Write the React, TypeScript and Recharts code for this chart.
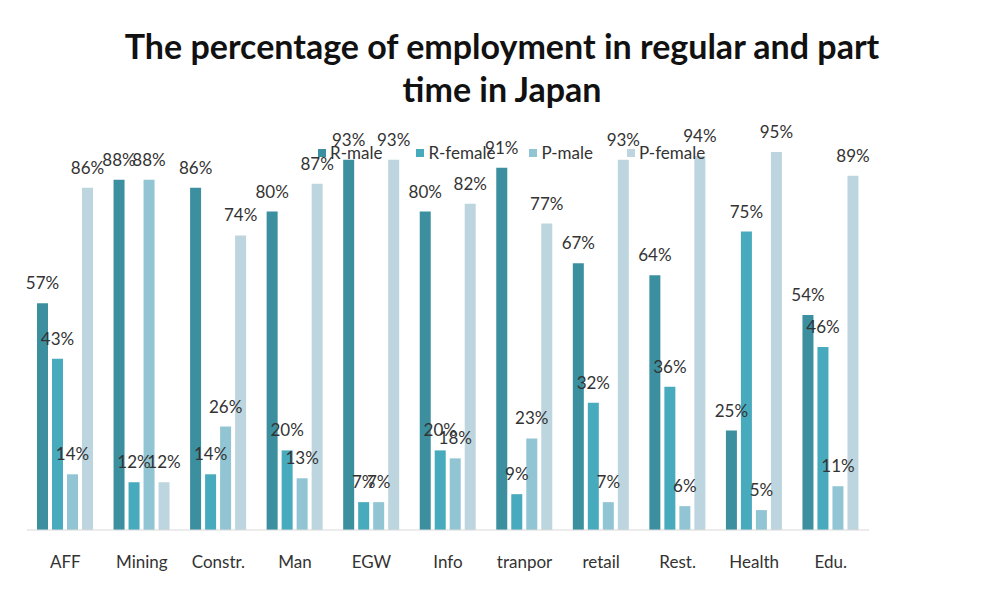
import { BarChart, Bar, XAxis, YAxis, LabelList } from 'recharts'

const categories = ['AFF', 'Mining', 'Constr.', 'Man', 'EGW', 'Info', 'tranpor', 'retail', 'Rest.', 'Health', 'Edu.']
const rMale = [57, 88, 86, 80, 93, 80, 91, 67, 64, 25, 54]
const rFemale = [43, 12, 14, 20, 7, 20, 9, 32, 36, 75, 46]
const pMale = [14, 88, 26, 13, 7, 18, 23, 7, 6, 5, 11]
const pFemale = [86, 12, 74, 87, 93, 82, 77, 93, 94, 95, 89]

const series = [
  { key: 'rMale', name: 'R-male', color: '#3b8f9f' },
  { key: 'rFemale', name: 'R-female', color: '#48aabd' },
  { key: 'pMale', name: 'P-male', color: '#92c5d4' },
  { key: 'pFemale', name: 'P-female', color: '#bdd5de' },
]

const data = categories.map((name, i) => ({
  name,
  rMale: rMale[i],
  rFemale: rFemale[i],
  pMale: pMale[i],
  pFemale: pFemale[i],
}))

const font = 'Lato, "Open Sans", sans-serif'

function LegendBox() {
  return (
    <div style={{ display: 'flex', gap: 34, fontFamily: font, fontSize: 17, color: '#333' }}>
      {series.map(s => (
        <div key={s.key} style={{ display: 'flex', alignItems: 'center' }}>
          <span style={{ width: 8, height: 8, background: s.color, marginRight: 4, display: 'inline-block' }} />
          {s.name}
        </div>
      ))}
    </div>
  )
}

export default function App() {
  return (
    <div style={{ margin: -8, position: 'relative', width: 1004, height: 592, background: '#fff' }}>
      <div style={{ position: 'absolute', left: 4, top: 0, right: 2, bottom: 3, border: '1px solid #cfcfcf', borderTop: 'none' }} />
      <div
        style={{
          position: 'absolute', top: 24, left: 0, width: 1004, textAlign: 'center',
          fontFamily: font, fontWeight: 700, fontSize: 34, lineHeight: '43px', color: '#111',
        }}
      >
        The percentage of employment in regular and part
        <br />
        time in Japan
      </div>
      <div style={{ position: 'absolute', top: 0, left: 0 }}>
        <BarChart
          width={1004}
          height={592}
          data={data}
          margin={{ top: 132, right: 135, bottom: 22, left: 27 }}
          barSize={11}
          barGap={4}
        >
          <XAxis
            dataKey="name"
            axisLine={{ stroke: '#d9d9d9' }}
            tickLine={false}
            height={40}
            tick={{ fill: '#333', fontSize: 17, fontFamily: font }}
            tickMargin={20}
            interval={0}
          />
          <YAxis hide domain={[0, 100]} />
          {series.map(s => (
            <Bar key={s.key} dataKey={s.key} name={s.name} fill={s.color} isAnimationActive={false}>
              <LabelList
                dataKey={s.key}
                position="top"
                offset={14}
                formatter={(v: number) => `${v}%`}
                style={{ fill: '#333', fontSize: 17, fontFamily: font }}
              />
            </Bar>
          ))}
        </BarChart>
      </div>
      <div style={{ position: 'absolute', top: 142, left: 318 }}>
        <LegendBox />
      </div>
    </div>
  )
}
